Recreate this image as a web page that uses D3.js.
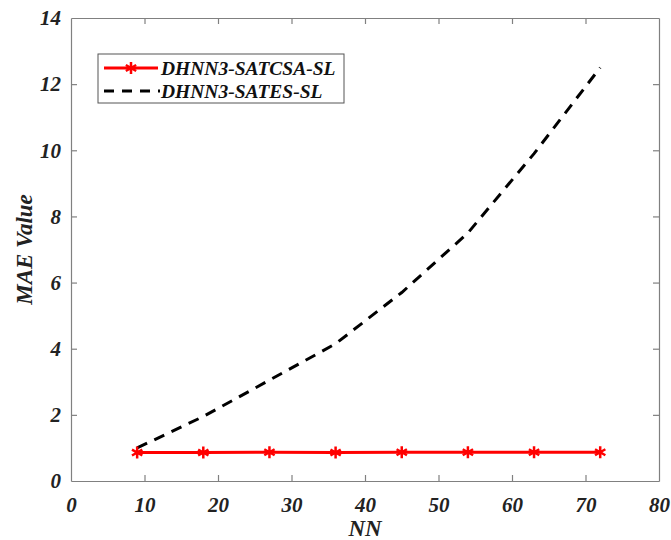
<!DOCTYPE html>
<html>
<head>
<meta charset="utf-8">
<script src="https://cdn.jsdelivr.net/npm/d3@7"></script>
<style>
  html, body { margin: 0; padding: 0; background: #fff; }
  svg text { font-family: "Liberation Serif", "Times New Roman", serif; font-weight: bold; font-style: italic; }
</style>
</head>
<body>
<svg id="chart" width="671" height="540"></svg>
<script>
// Neuron counts and mean absolute error for the two models
const nn = [9, 18, 27, 36, 45, 54, 63, 72];
const maeSATCSA = [0.86, 0.86, 0.87, 0.86, 0.87, 0.87, 0.87, 0.87];
const maeSATES = [1.0, 1.95, 3.05, 4.15, 5.7, 7.5, 9.9, 12.5];
const xTicks = [0, 10, 20, 30, 40, 50, 60, 70, 80];
const yTicks = [0, 2, 4, 6, 8, 10, 12, 14];
const seriesNames = ["DHNN3-SATCSA-SL", "DHNN3-SATES-SL"];

const svg = d3.select("#chart");
const m = { left: 71, right: 659, top: 18, bottom: 481 };

const x = d3.scaleLinear().domain([0, 80]).range([m.left, m.right]);
const y = d3.scaleLinear().domain([0, 14]).range([m.bottom, m.top]);

const axisColor = "#808080";
const tickLen = 6;

// Axes: bottom and left with labels, top and right mirrored without labels
const gx = svg.append("g").attr("transform", `translate(0,${m.bottom})`)
  .call(d3.axisBottom(x).tickValues(xTicks).tickSizeInner(-tickLen).tickSizeOuter(0).tickPadding(16));
const gy = svg.append("g").attr("transform", `translate(${m.left},0)`)
  .call(d3.axisLeft(y).tickValues(yTicks).tickSizeInner(-tickLen).tickSizeOuter(0).tickPadding(10));
const gxt = svg.append("g").attr("transform", `translate(0,${m.top})`)
  .call(d3.axisTop(x).tickValues(xTicks).tickSizeInner(-tickLen).tickSizeOuter(0).tickFormat(""));
const gyr = svg.append("g").attr("transform", `translate(${m.right},0)`)
  .call(d3.axisRight(y).tickValues(yTicks).tickSizeInner(-tickLen).tickSizeOuter(0).tickFormat(""));

[gx, gy, gxt, gyr].forEach(g => {
  g.attr("font-family", null).attr("font-size", null);
  g.select(".domain").attr("stroke", axisColor).attr("stroke-width", 1.2);
  g.selectAll(".tick line").attr("stroke", axisColor).attr("stroke-width", 1.2);
  g.selectAll(".tick text").attr("fill", "#222").style("font-size", "21px");
});
// remove end ticks that coincide with the frame
[gx, gxt].forEach(g => g.selectAll(".tick line").filter(d => d === 0 || d === 80).remove());
[gy, gyr].forEach(g => g.selectAll(".tick line").filter(d => d === 0 || d === 14).remove());

// Axis titles
svg.append("text").attr("x", (m.left + m.right) / 2).attr("y", 536)
  .attr("text-anchor", "middle").attr("fill", "#222").style("font-size", "23px").text("NN");
svg.append("text").attr("transform", `translate(32,${(m.top + m.bottom) / 2}) rotate(-90)`)
  .attr("text-anchor", "middle").attr("fill", "#222").style("font-size", "23px").text("MAE Value");

const line = d3.line().x((d, i) => x(nn[i])).y(d => y(d));

// Dashed black series
svg.append("path").datum(maeSATES).attr("d", line)
  .attr("fill", "none").attr("stroke", "#000").attr("stroke-width", 3)
  .attr("stroke-dasharray", "11,8");

// Red series with asterisk markers
svg.append("path").datum(maeSATCSA).attr("d", line)
  .attr("fill", "none").attr("stroke", "#ff0000").attr("stroke-width", 3);

const star = d3.symbol().type(d3.symbolAsterisk).size(100);
svg.append("g").selectAll("path").data(maeSATCSA).join("path")
  .attr("transform", (d, i) => `translate(${x(nn[i])},${y(d)})`)
  .attr("d", star).attr("fill", "none").attr("stroke", "#ff0000").attr("stroke-width", 2.5);

// Legend
const lg = svg.append("g");
lg.append("rect").attr("x", 98).attr("y", 54).attr("width", 246).attr("height", 49)
  .attr("fill", "#fff").attr("stroke", "#555").attr("stroke-width", 1);
lg.append("line").attr("x1", 104).attr("x2", 158).attr("y1", 68).attr("y2", 68)
  .attr("stroke", "#ff0000").attr("stroke-width", 3);
lg.append("path").attr("transform", "translate(131,68)").attr("d", star)
  .attr("fill", "none").attr("stroke", "#ff0000").attr("stroke-width", 2.5);
lg.append("line").attr("x1", 104).attr("x2", 160).attr("y1", 91).attr("y2", 91)
  .attr("stroke", "#000").attr("stroke-width", 3).attr("stroke-dasharray", "10,8");
lg.selectAll("text.leg").data(seriesNames).join("text").attr("class", "leg")
  .attr("x", 161).attr("y", (d, i) => 75 + i * 23)
  .attr("fill", "#111").style("font-size", "19.5px").text(d => d);
</script>
</body>
</html>
